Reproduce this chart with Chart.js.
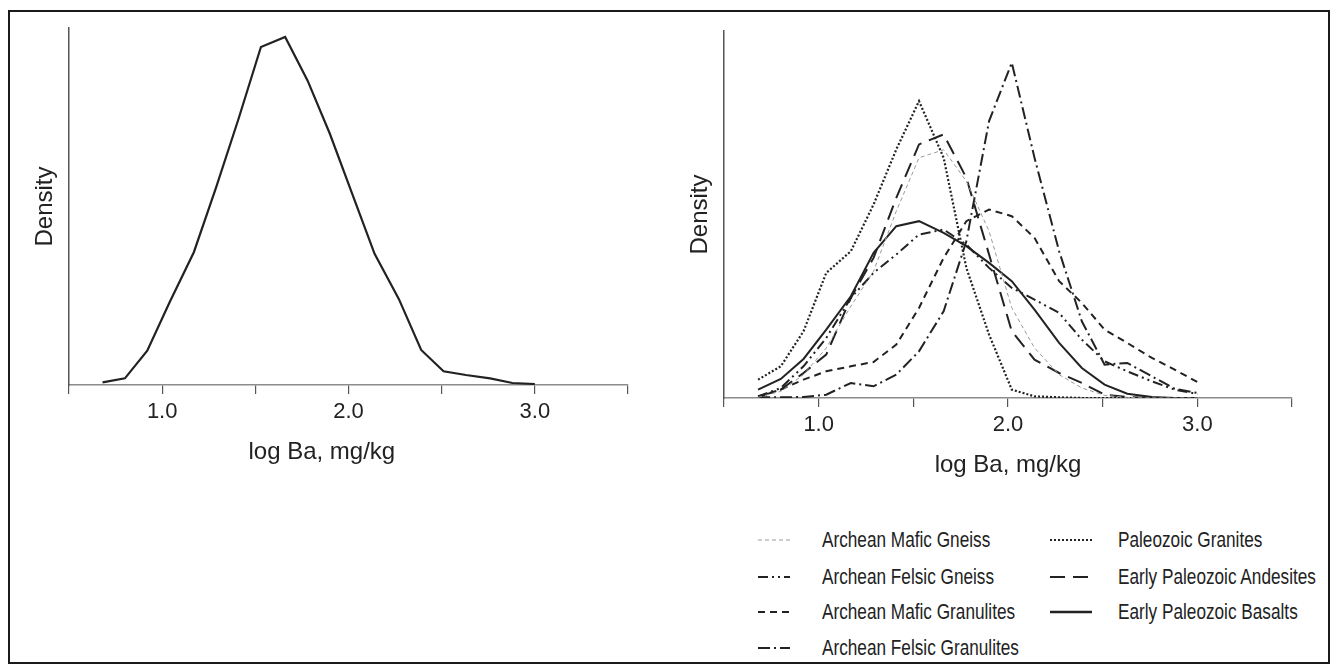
<!DOCTYPE html>
<html>
<head>
<meta charset="utf-8">
<title>log Ba density</title>
<script src="https://cdn.jsdelivr.net/npm/chart.js@4.4.0/dist/chart.umd.min.js"></script>
<style>
    body { margin: 0; background: #fff; }
    #frame {
        position: absolute; left: 8px; top: 10px; width: 1322px; height: 654px;
        border: 2px solid #1a1a1a; box-sizing: border-box;
    }
    .box { position: absolute; }
    .legend-row {
        position: absolute; height: 30px; display: flex; align-items: center;
        font-family: "Liberation Sans", Arial, sans-serif;
        font-size: 21.5px; color: #222; white-space: nowrap;
    }
    .legend-row span { display: inline-block; transform: scaleX(0.8); transform-origin: left center; }
</style>
</head>
<body>
<div id="frame"></div>
<div class="box" style="left:10px; top:12px; width:650px; height:460px;">
    <canvas id="allChart"></canvas>
</div>
<div class="box" style="left:665px; top:12px; width:659px; height:473px;">
    <canvas id="groupChart"></canvas>
</div>
<div id="legend"></div>

<script>
// x positions of the density estimate (log Ba, mg/kg)
const logBa = [0.68, 0.80, 0.92, 1.04, 1.17, 1.29, 1.41, 1.53, 1.66, 1.78,
               1.90, 2.02, 2.14, 2.27, 2.39, 2.51, 2.63, 2.76, 2.88, 3.00];

// left panel - all samples
const allSamples = [0.008, 0.020, 0.103, 0.248, 0.398, 0.593, 0.798, 1.013, 1.043, 0.913,
                    0.753, 0.573, 0.393, 0.258, 0.105, 0.041, 0.030, 0.020, 0.006, 0.003];

// right panel - rock groups
const archeanMaficGneiss = [0.002, 0.020, 0.070, 0.150, 0.275, 0.380, 0.560, 0.720, 0.744, 0.650,
                            0.500, 0.270, 0.150, 0.070, 0.030, 0.008, 0.002, 0, 0, 0];
const archeanFelsicGneiss = [0.005, 0.030, 0.095, 0.180, 0.300, 0.375, 0.430, 0.490, 0.505, 0.460,
                             0.390, 0.330, 0.295, 0.255, 0.175, 0.110, 0.080, 0.050, 0.025, 0.012];
const archeanMaficGranulites = [0.005, 0.025, 0.055, 0.080, 0.095, 0.108, 0.160, 0.270, 0.420, 0.530,
                                0.565, 0.545, 0.480, 0.350, 0.285, 0.205, 0.165, 0.120, 0.085, 0.048];
const archeanFelsicGranulites = [0.002, 0.002, 0.003, 0.010, 0.045, 0.035, 0.070, 0.140, 0.260, 0.470,
                                 0.830, 1.005, 0.720, 0.440, 0.230, 0.100, 0.105, 0.065, 0.028, 0.015];
const paleozoicGranites = [0.055, 0.095, 0.200, 0.375, 0.440, 0.580, 0.745, 0.890, 0.720, 0.390,
                           0.190, 0.025, 0.005, 0.002, 0, 0, 0, 0, 0, 0];
const earlyPaleozoicAndesites = [0.003, 0.025, 0.075, 0.130, 0.300, 0.420, 0.600, 0.760, 0.790, 0.660,
                                 0.430, 0.200, 0.115, 0.075, 0.045, 0.010, 0.003, 0, 0, 0];
const earlyPaleozoicBasalts = [0.025, 0.057, 0.117, 0.205, 0.305, 0.435, 0.515, 0.530, 0.495, 0.455,
                               0.405, 0.350, 0.265, 0.165, 0.090, 0.040, 0.013, 0.003, 0, 0];

const tickLabels = ['1.0', '2.0', '3.0'];

const FONT = '"Liberation Sans", Arial, sans-serif';
const INK = '#222';

// line styles for the groups
const groups = [
    { label: 'Archean Mafic Gneiss', data: archeanMaficGneiss, color: '#9a9a9a', width: 1, dash: [4, 3] },
    { label: 'Archean Felsic Gneiss', data: archeanFelsicGneiss, color: INK, width: 2, dash: [10, 4, 2, 4, 2, 4] },
    { label: 'Archean Mafic Granulites', data: archeanMaficGranulites, color: INK, width: 2, dash: [7, 5] },
    { label: 'Archean Felsic Granulites', data: archeanFelsicGranulites, color: INK, width: 2, dash: [12, 4, 2, 4] },
    { label: 'Paleozoic Granites', data: paleozoicGranites, color: INK, width: 2.2, dash: [2, 2] },
    { label: 'Early Paleozoic Andesites', data: earlyPaleozoicAndesites, color: INK, width: 2, dash: [15, 8] },
    { label: 'Early Paleozoic Basalts', data: earlyPaleozoicBasalts, color: INK, width: 2, dash: [] }
];

function toPoints(values) {
    return logBa.map((x, i) => ({ x: x, y: values[i] }));
}

function makeOptions(yMax, padTop, xTitle) {
    return {
        responsive: true,
        maintainAspectRatio: false,
        animation: false,
        layout: { padding: { top: padTop, right: 32, left: 0, bottom: 0 } },
        plugins: { legend: { display: false }, tooltip: { enabled: false } },
        elements: { point: { radius: 0 }, line: { tension: 0 } },
        scales: {
            x: {
                type: 'linear',
                min: 0.5,
                max: 3.5,
                afterFit: s => { s.height = 87; },
                border: { display: true, color: '#8c8c8c', width: 1.5 },
                grid: { drawOnChartArea: false, drawTicks: true, tickLength: 9, color: '#555', lineWidth: 1.2 },
                ticks: {
                    stepSize: 0.5,
                    autoSkip: false,
                    maxRotation: 0,
                    padding: 5,
                    color: INK,
                    font: { family: FONT, size: 22 },
                    callback: function(v) {
                        const t = v.toFixed(1);
                        return tickLabels.includes(t) ? t : '';
                    }
                },
                title: {
                    display: true,
                    text: xTitle,
                    color: INK,
                    font: { family: FONT, size: 24 },
                    padding: { top: 0, bottom: 5 }
                }
            },
            y: {
                min: 0,
                max: yMax,
                afterFit: s => { s.width = 59; },
                border: { display: true, color: '#555', width: 1.5 },
                grid: { display: false },
                ticks: { display: false },
                title: {
                    display: true,
                    text: 'Density',
                    color: INK,
                    font: { family: FONT, size: 24 },
                    padding: { top: 21, bottom: 0 }
                }
            }
        }
    };
}

// left title sits a little left of the axis centre in the original
new Chart(document.getElementById('allChart'), {
    type: 'line',
    data: {
        datasets: [{
            label: 'All samples',
            data: toPoints(allSamples),
            borderColor: INK,
            borderWidth: 2.2,
            fill: false
        }]
    },
    options: makeOptions(1.07, 16, 'log Ba, mg/kg        ')
});

new Chart(document.getElementById('groupChart'), {
    type: 'line',
    data: {
        datasets: groups.map(g => ({
            label: g.label,
            data: toPoints(g.data),
            borderColor: g.color,
            borderWidth: g.width,
            borderDash: g.dash,
            fill: false
        }))
    },
    options: makeOptions(1.10, 19, 'log Ba, mg/kg')
});

// legend below the right panel, two columns
const legendSpots = [
    { sx: 758, sw: 32, tx: 822, y: 540 },
    { sx: 758, sw: 32, tx: 822, y: 577 },
    { sx: 758, sw: 32, tx: 822, y: 612 },
    { sx: 758, sw: 32, tx: 822, y: 648 },
    { sx: 1050, sw: 42, tx: 1118, y: 540 },
    { sx: 1050, sw: 42, tx: 1118, y: 577 },
    { sx: 1050, sw: 42, tx: 1118, y: 612 }
];
const legend = document.getElementById('legend');
groups.forEach((g, i) => {
    const p = legendSpots[i];
    const row = document.createElement('div');
    row.className = 'legend-row';
    row.style.left = p.sx + 'px';
    row.style.top = (p.y - 15) + 'px';
    const dash = g.dash.length ? g.dash.join(' ') : 'none';
    row.innerHTML =
        '<svg width="' + (p.tx - p.sx) + '" height="30">' +
        '<line x1="0" y1="15" x2="' + p.sw + '" y2="15" stroke="' + g.color + '" stroke-width="' +
        (g.dash.length ? g.width : 2.6) + '" stroke-dasharray="' + dash + '"/></svg>' +
        '<span>' + g.label + '</span>';
    legend.appendChild(row);
});
</script>
</body>
</html>
